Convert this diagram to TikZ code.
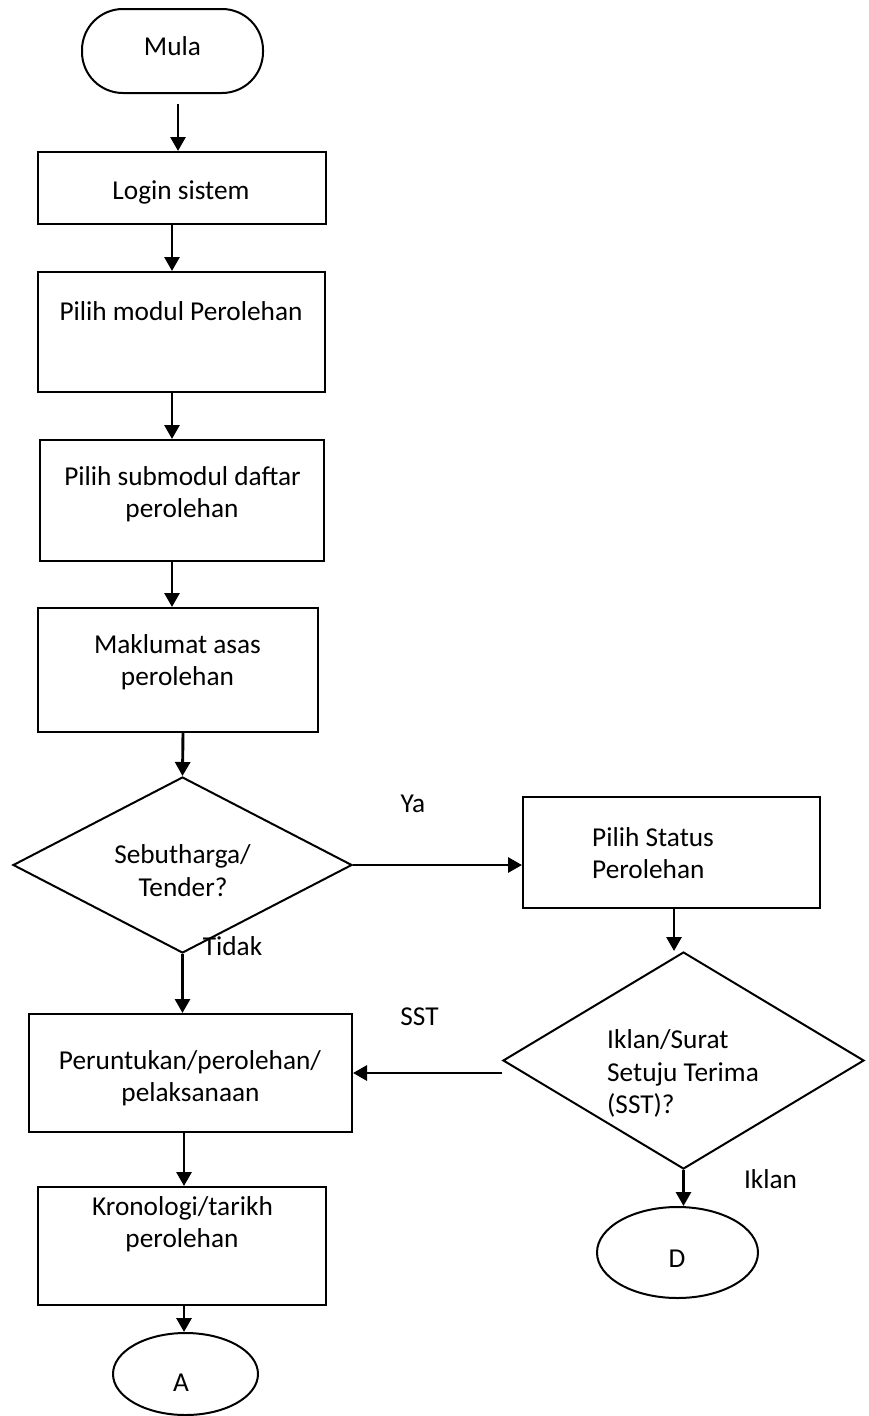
\documentclass[tikz,border=0pt]{standalone}
\usepackage{fontspec}
\setmainfont{Carlito}
\usetikzlibrary{arrows.meta,shapes.geometric}
\begin{document}
\begin{tikzpicture}[x=1pt,y=-1pt,
  shapeline/.style={draw=black, line width=2pt, inner sep=0pt},
  procbox/.style={shapeline, rectangle},
  decision/.style={shapeline, diamond},
  terminal/.style={shapeline, ellipse},
  lbl/.style={font=\fontsize{27.3}{32}\selectfont, inner sep=0pt, anchor=base},
  lblw/.style={lbl, anchor=base west},
  flow/.style={line width=2.9pt, -{Triangle[length=14pt,width=15pt]}},
]
\useasboundingbox (0,0) rectangle (869,1416);

% shapes
\node[shapeline, rectangle, rounded corners=41pt, minimum width=181pt, minimum height=84pt] (mula) at (172.5,51) {};
\node[procbox, minimum width=288pt, minimum height=72pt]  (login)     at (182,188) {};
\node[procbox, minimum width=287pt, minimum height=120pt] (modul)     at (181.5,332) {};
\node[procbox, minimum width=284pt, minimum height=121pt] (submodul)  at (182,500.5) {};
\node[procbox, minimum width=280pt, minimum height=124pt] (maklumat)  at (178,670) {};
\node[decision, minimum width=339pt, minimum height=176pt] (dec1)     at (182.5,865) {};
\node[procbox, minimum width=297pt, minimum height=111pt] (status)    at (671.5,852.5) {};
\node[decision, minimum width=361pt, minimum height=217pt] (dec2)     at (683.5,1060.5) {};
\node[procbox, minimum width=323pt, minimum height=118pt] (peruntukan) at (190.5,1073) {};
\node[procbox, minimum width=288pt, minimum height=118pt] (kronologi) at (182,1246) {};
\node[terminal, minimum width=145pt, minimum height=82pt] (endA) at (185.5,1374) {};
\node[terminal, minimum width=161pt, minimum height=91pt] (endD) at (677.5,1252.5) {};

% texts
\node[lbl] (tmula) at (172.5,55) {Mula};
\node[lbl] (tlogin) at (181,199) {Login sistem};
\node[lbl] (tmodul) at (181,320) {Pilih modul Perolehan};
\node[lbl] (tsub1) at (182.5,485) {Pilih submodul daftar};
\node[lbl] (tsub2) at (182,517) {perolehan};
\node[lbl] (tmak1) at (177.5,653) {Maklumat asas};
\node[lbl] (tmak2) at (177.5,685) {perolehan};
\node[lbl] (tdec1a) at (182.5,863) {Sebutharga/};
\node[lbl] (tdec1b) at (183,896) {Tender?};
\node[lbl] (tya) at (413,812) {Ya};
\node[lbl] (ttidak) at (232.5,955) {Tidak};
\node[lbl] (tsst) at (419.5,1025) {SST};
\node[lbl] (tper1) at (190,1069) {Peruntukan/perolehan/};
\node[lbl] (tper2) at (190.5,1101) {pelaksanaan};
\node[lblw] (tstat1) at (592,846) {Pilih Status};
\node[lblw] (tstat2) at (592,878) {Perolehan};
\node[lblw] (tdec2a) at (607,1048) {Iklan/Surat};
\node[lblw] (tdec2b) at (607,1081) {Setuju Terima};
\node[lblw] (tdec2c) at (607,1113) {(SST)?};
\node[lbl] (tiklan) at (770.5,1188) {Iklan};
\node[lbl] (tkro1) at (182.5,1215) {Kronologi/tarikh};
\node[lbl] (tkro2) at (182,1247) {perolehan};
\node[lbl] (tA) at (181,1391) {A};
\node[lbl] (tD) at (677,1267) {D};

% connector columns
\coordinate (x178) at (178,0);
\coordinate (x172) at (172,0);
\coordinate (x183) at (183,0);
\coordinate (x184) at (184,0);
\coordinate (x674) at (674,0);

% connectors
\draw[flow, shorten <=10pt] (mula.south -| x178) -- (login.north -| x178);
\draw[flow] (login.south -| x172) -- (modul.north -| x172);
\draw[flow] (modul.south -| x172) -- (submodul.north -| x172);
\draw[flow] (submodul.south -| x172) -- (maklumat.north -| x172);
\draw[flow] (maklumat.south -| x183) -- (dec1.north);
\draw[flow] (dec1.east) -- (status.west |- dec1.east);
\draw[flow] (dec1.south) -- (peruntukan.north -| dec1.south);
\draw[flow] (status.south -| x674) -- (dec2.north -| x674);
\draw[flow] (dec2.west |- peruntukan.east) -- (peruntukan.east);
\draw[flow] (dec2.south) -- (endD.north -| dec2.south);
\draw[flow] (peruntukan.south -| x184) -- (kronologi.north -| x184);
\draw[flow] (kronologi.south -| x184) -- (endA.north -| x184);
\end{tikzpicture}
\end{document}
